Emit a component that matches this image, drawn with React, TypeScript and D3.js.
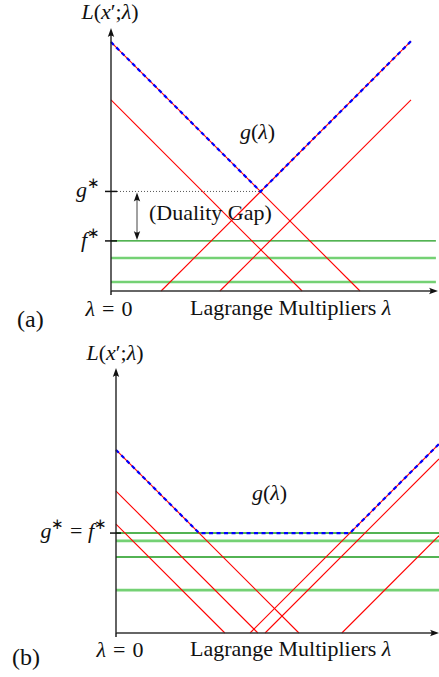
import React from "react";
import * as d3 from "d3";

// ---------- data (panel a) ----------
const aDescIntercepts = [8.3, 6.37]; // L = a - λ
const aAscRoots = [1.67, 3.63]; // L = λ - r
const aConstLevels = [1.67, 1.1, 0.3]; // horizontal lines (first = f*)
const aConstKinds = ["dark", "light", "light"];
const aGStar = 3.32;
const aFStar = 1.67;
const aLambdaMax = 10.9;
const aLMax = 8.77;
const aLineEnd = 10.0;
const aConstEnd = 10.83;

// ---------- data (panel b) ----------
const bDescIntercepts = [6.1, 4.73, 3.63];
const bAscRoots = [4.47, 4.97, 7.53];
const bConstLevels = [3.33, 3.07, 2.53, 1.43];
const bConstKinds = ["dark", "light", "dark", "light"];
const bGStar = 3.33;
const bLambdaMax = 10.77;
const bLMax = 8.83;
const bLineEnd = 10.77;
const bConstEnd = 10.77;

const FONT = "Liberation Serif";
const RED = "#ff0000";
const BLUE = "#0000ff";
const DARKG = "#1a9a1a";
const LIGHTG = "#74d174";

type PanelProps = {
  x0: number;
  x1: number;
  y0: number;
  y1: number;
  lambdaMax: number;
  lMax: number;
  desc: number[];
  asc: number[];
  consts: number[];
  kinds: string[];
  lineEnd: number;
  constEnd: number;
  gFlat: number | null;
};

function Arrow({ x, y, dir }: { x: number; y: number; dir: "up" | "right" | "down" }) {
  const L = 9;
  const W = 3.2;
  let d = "";
  if (dir === "up") d = `M${x},${y} L${x - W},${y + L} Q${x},${y + L - 3} ${x + W},${y + L} Z`;
  if (dir === "down") d = `M${x},${y} L${x - W},${y - L} Q${x},${y - L + 3} ${x + W},${y - L} Z`;
  if (dir === "right") d = `M${x},${y} L${x - L},${y - W} Q${x - L + 3},${y} ${x - L},${y + W} Z`;
  return <path d={d} fill="#111" />;
}

function Panel(p: PanelProps) {
  const xs = d3.scaleLinear().domain([0, p.lambdaMax]).range([p.x0, p.x1]);
  const ys = d3.scaleLinear().domain([0, p.lMax]).range([p.y0, p.y1]);
  const line = d3
    .line<[number, number]>()
    .x((d) => xs(d[0]))
    .y((d) => ys(d[1]));

  const descLines = p.desc.map((a) => [
    [0, a],
    [Math.min(a, p.lineEnd), a - Math.min(a, p.lineEnd)],
  ] as [number, number][]);
  const ascLines = p.asc.map((r) => [
    [r, 0],
    [p.lineEnd, p.lineEnd - r],
  ] as [number, number][]);

  const a0 = p.desc[0];
  const r0 = p.asc[0];
  let gPts: [number, number][];
  if (p.gFlat !== null) {
    gPts = [
      [0, a0],
      [a0 - p.gFlat, p.gFlat],
      [r0 + p.gFlat, p.gFlat],
      [p.lineEnd, p.lineEnd - r0],
    ];
  } else {
    const lv = (a0 + r0) / 2;
    gPts = [
      [0, a0],
      [lv, a0 - lv],
      [p.lineEnd, p.lineEnd - r0],
    ];
  }

  return (
    <g>
      {p.consts.map((c, i) => (
        <path
          key={"c" + i}
          d={line([
            [0, c],
            [p.constEnd, c],
          ])!}
          stroke={p.kinds[i] === "dark" ? DARKG : LIGHTG}
          strokeWidth={p.kinds[i] === "dark" ? 1.4 : 2.6}
          fill="none"
        />
      ))}
      {descLines.map((l, i) => (
        <path key={"d" + i} d={line(l)!} stroke={RED} strokeWidth={1.1} fill="none" />
      ))}
      {ascLines.map((l, i) => (
        <path key={"a" + i} d={line(l)!} stroke={RED} strokeWidth={1.1} fill="none" />
      ))}
      <path d={line(gPts)!} stroke={BLUE} strokeWidth={2.2} strokeDasharray="4,3.5" fill="none" />
      <line x1={xs(0)} y1={ys(0)} x2={xs(0)} y2={ys(p.lMax) + 6} stroke="#222" strokeWidth={1.4} />
      <Arrow x={xs(0)} y={ys(p.lMax)} dir="up" />
      <line x1={xs(0)} y1={ys(0)} x2={xs(p.lambdaMax) - 6} y2={ys(0)} stroke="#333" strokeWidth={1.4} />
      <Arrow x={xs(p.lambdaMax)} y={ys(0)} dir="right" />
      <line x1={xs(0)} y1={ys(0)} x2={xs(0)} y2={ys(0) + 4} stroke="#111" strokeWidth={1.4} />
    </g>
  );
}

export default function App() {
  const axs = d3.scaleLinear().domain([0, aLambdaMax]).range([111, 438]);
  const ays = d3.scaleLinear().domain([0, aLMax]).range([291, 28]);
  const bxs = d3.scaleLinear().domain([0, bLambdaMax]).range([116, 439]);
  const bys = d3.scaleLinear().domain([0, bLMax]).range([633, 368]);
  const vertexLambda = (aDescIntercepts[0] + aAscRoots[0]) / 2;

  const fs = 22;
  const sup = 15;
  return (
    <div style={{ position: "absolute", left: 0, top: 0 }}>
      <svg width={439} height={677} style={{ display: "block" }} fontFamily={FONT}>
        <rect width={439} height={677} fill="#fff" />
        <Panel
          x0={111}
          x1={438}
          y0={291}
          y1={28}
          lambdaMax={aLambdaMax}
          lMax={aLMax}
          desc={aDescIntercepts}
          asc={aAscRoots}
          consts={aConstLevels}
          kinds={aConstKinds}
          lineEnd={aLineEnd}
          constEnd={aConstEnd}
          gFlat={null}
        />
        <line
          x1={axs(0)}
          y1={ays(aGStar)}
          x2={axs(vertexLambda)}
          y2={ays(aGStar)}
          stroke="#555"
          strokeWidth={1}
          strokeDasharray="1,2"
        />
        <line x1={105} x2={117} y1={ays(aGStar)} y2={ays(aGStar)} stroke="#111" strokeWidth={1.5} />
        <line x1={105} x2={117} y1={ays(aFStar)} y2={ays(aFStar)} stroke="#111" strokeWidth={1.5} />
        <line x1={137} x2={137} y1={ays(aGStar) + 6} y2={ays(aFStar) - 6} stroke="#444" strokeWidth={1} />
        <Arrow x={137} y={ays(aGStar) + 1} dir="up" />
        <Arrow x={137} y={ays(aFStar) - 1} dir="down" />

        <g fontSize={fs} fill="#111" fontFamily={FONT}>
          <text x={110} y={19} textAnchor="middle">
            <tspan fontStyle="italic">L</tspan>(<tspan fontStyle="italic">x</tspan>′;
            <tspan fontStyle="italic">λ</tspan>)
          </text>
          <text x={240} y={139}>
            <tspan fontStyle="italic">g</tspan>(<tspan fontStyle="italic">λ</tspan>)
          </text>
          <text x={100} y={197} textAnchor="end">
            <tspan fontStyle="italic">g</tspan>
            <tspan fontSize={sup} dy={-9}>∗</tspan>
          </text>
          <text x={100} y={247} textAnchor="end">
            <tspan fontStyle="italic">f</tspan>
            <tspan fontSize={sup} dy={-9}>∗</tspan>
          </text>
          <text x={149} y={220}>(Duality Gap)</text>
          <text x={109} y={316} textAnchor="middle">
            <tspan fontStyle="italic">λ</tspan>
            <tspan dx={7}>=</tspan>
            <tspan dx={7}>0</tspan>
          </text>
          <text x={190} y={315}>
            Lagrange Multipliers <tspan fontStyle="italic">λ</tspan>
          </text>
          <text x={17} y={327} fontSize={24}>(a)</text>
        </g>

        <Panel
          x0={116}
          x1={439}
          y0={633}
          y1={368}
          lambdaMax={bLambdaMax}
          lMax={bLMax}
          desc={bDescIntercepts}
          asc={bAscRoots}
          consts={bConstLevels}
          kinds={bConstKinds}
          lineEnd={bLineEnd}
          constEnd={bConstEnd}
          gFlat={bGStar}
        />
        <line x1={110} x2={121} y1={bys(bGStar)} y2={bys(bGStar)} stroke="#111" strokeWidth={1.5} />
        <g fontSize={fs} fill="#111" fontFamily={FONT}>
          <text x={115} y={360} textAnchor="middle">
            <tspan fontStyle="italic">L</tspan>(<tspan fontStyle="italic">x</tspan>′;
            <tspan fontStyle="italic">λ</tspan>)
          </text>
          <text x={252} y={500}>
            <tspan fontStyle="italic">g</tspan>(<tspan fontStyle="italic">λ</tspan>)
          </text>
          <text x={107} y={538} textAnchor="end">
            <tspan fontStyle="italic">g</tspan>
            <tspan fontSize={sup} dy={-9}>∗</tspan>
            <tspan dy={9}> = </tspan>
            <tspan fontStyle="italic">f</tspan>
            <tspan fontSize={sup} dy={-9}>∗</tspan>
          </text>
          <text x={bxs(0) + 4} y={657} textAnchor="middle">
            <tspan fontStyle="italic">λ</tspan>
            <tspan dx={7}>=</tspan>
            <tspan dx={7}>0</tspan>
          </text>
          <text x={190} y={656}>
            Lagrange Multipliers <tspan fontStyle="italic">λ</tspan>
          </text>
          <text x={12} y={665} fontSize={24}>(b)</text>
        </g>
      </svg>
    </div>
  );
}
